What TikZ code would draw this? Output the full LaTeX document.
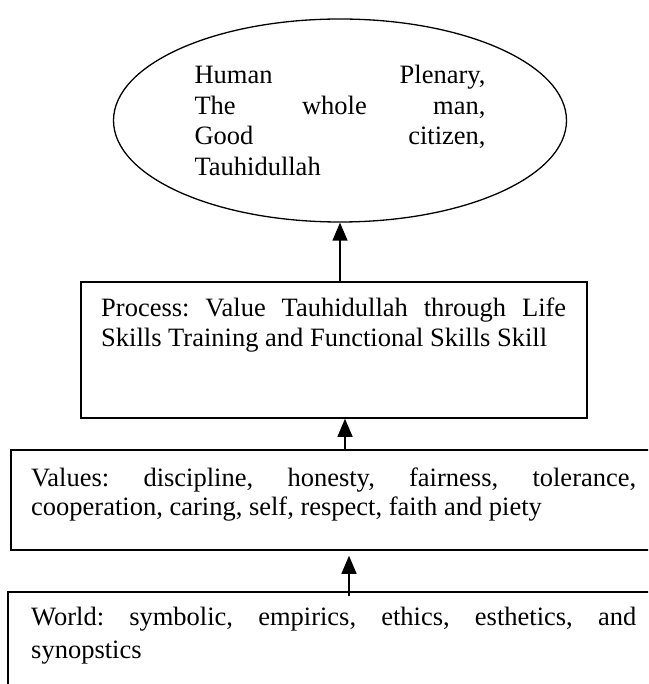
\documentclass[tikz,border=0pt]{standalone}
\usepackage{fontspec}
\setmainfont{Liberation Serif}
\usepackage{tikz}
\usetikzlibrary{arrows.meta,shapes.geometric}
\frenchspacing

\begin{document}
\begin{tikzpicture}[x=1pt,y=-1pt,
  box/.style={draw,line width=1.5pt,inner sep=0pt},
  txt/.style={inner sep=0pt,align=justify,anchor=base west,font=\fontsize{26.5}{29.5}\selectfont},
  arr/.style={-{Triangle[width=15pt,length=18pt]},line width=1.3pt}]
\useasboundingbox (0,0) rectangle (648,684);
\clip (0,0) rectangle (648,684);

% goal
\node[ellipse,draw,line width=1.3pt,minimum width=453pt,minimum height=203pt,inner sep=0pt,
  text width=291pt,align=justify,font=\fontsize{26.5}{30.5}\selectfont] (goal) at (340,120.5)
  {Human Plenary,\linebreak The whole man,\linebreak Good citizen,\linebreak Tauhidullah};

% boxes
\node[box,minimum width=506pt,minimum height=136pt] (process) at (334,350) {};
\node[box,minimum width=641pt,minimum height=100pt] (values) at (331.5,500) {};
\node[box,minimum width=652pt,minimum height=108pt] (world) at (334,646) {};

\node[txt,text width=465pt] (processtxt) at (101,316.5)
  {Process: Value Tauhidullah through Life\linebreak Skills Training and Functional Skills Skill};
\node[txt,text width=605pt] (valuestxt) at (31,486)
  {Values: discipline, honesty, fairness, tolerance,\linebreak cooperation, caring, self, respect, faith and piety};
\node[txt,text width=605pt,font=\fontsize{26.5}{33}\selectfont] (worldtxt) at (31,625)
  {World: symbolic, empirics, ethics, esthetics, and\linebreak synopstics};

% arrows
\draw[arr] (goal.south |- process.north) -- (goal.south);
\draw[arr] ([xshift=11pt]process.south |- values.north) -- ([xshift=11pt]process.south);
\draw[arr] ([xshift=15pt,yshift=-5pt]process.south |- world.north) -- ([xshift=15pt,yshift=-5pt]process.south |- values.south);

\end{tikzpicture}
\end{document}
